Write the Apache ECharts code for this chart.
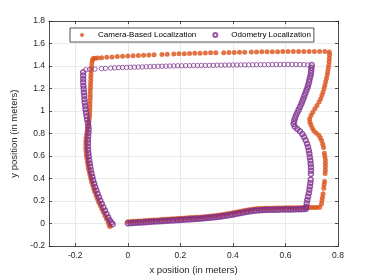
<!DOCTYPE html>
<html><head><meta charset="utf-8">
<script src="https://cdn.jsdelivr.net/npm/echarts@6/dist/echarts.min.js"></script>
<style>html,body{margin:0;padding:0;background:#fff}#c{width:374px;height:280px}</style>
</head><body><div id="c"></div>
<script>
const xTicks = [-0.2, 0, 0.2, 0.4, 0.6, 0.8];
const yTicks = [-0.2, 0, 0.2, 0.4, 0.6, 0.8, 1, 1.2, 1.4, 1.6, 1.8];

// Camera-Based Localization
const camBottomX = [0.00,0.01,0.02,0.03,0.04,0.05,0.06,0.07,0.08,0.09,0.10,0.11,0.12,0.13,0.14,0.15,0.16,0.17,0.18,0.19,0.20,0.21,0.22,0.23,0.24,0.25,0.26,0.27,0.28,0.29,0.30,0.31,0.32,0.33,0.34,0.35,0.36,0.37,0.38,0.39,0.40,0.41,0.42,0.43,0.44,0.45,0.46,0.47,0.48,0.49,0.50,0.51,0.52,0.53,0.54,0.55,0.56,0.57,0.58,0.59,0.60,0.61,0.62,0.63,0.64,0.65,0.66,0.67,0.68,0.69,0.70,0.71,0.72,0.73];
const camBottomY = [0.017,0.018,0.020,0.021,0.023,0.024,0.026,0.027,0.029,0.030,0.032,0.033,0.035,0.036,0.038,0.039,0.041,0.042,0.044,0.045,0.047,0.048,0.050,0.051,0.053,0.054,0.056,0.057,0.059,0.061,0.063,0.065,0.067,0.070,0.073,0.076,0.080,0.084,0.088,0.092,0.096,0.100,0.105,0.109,0.114,0.118,0.122,0.126,0.130,0.132,0.134,0.135,0.136,0.136,0.137,0.137,0.138,0.138,0.139,0.139,0.140,0.140,0.140,0.141,0.141,0.141,0.142,0.142,0.142,0.143,0.143,0.144,0.144,0.145];
const camRight = [[0.737,0.175],[0.739,0.205],[0.741,0.235],[0.743,0.265],[0.746,0.315],[0.747,0.345],[0.749,0.375],[0.751,0.445],[0.752,0.475],[0.752,0.505],[0.752,0.535],[0.752,0.565],[0.750,0.595],[0.748,0.625],[0.745,0.675],[0.742,0.705],[0.738,0.735],[0.733,0.760],[0.727,0.785],[0.717,0.805],[0.708,0.825],[0.702,0.850],[0.697,0.875],[0.693,0.900],[0.692,0.930],[0.697,0.960],[0.704,0.990],[0.712,1.020],[0.720,1.050],[0.728,1.080],[0.734,1.110],[0.739,1.140],[0.743,1.170],[0.747,1.200],[0.750,1.230],[0.753,1.260],[0.756,1.290],[0.759,1.320],[0.761,1.350],[0.763,1.380],[0.765,1.410],[0.766,1.440],[0.767,1.470],[0.768,1.500],[0.767,1.525]];
const camTopX = [0.750,0.730,0.710,0.690,0.670,0.650,0.630,0.610,0.590,0.570,0.550,0.530,0.510,0.490,0.470,0.445,0.425,0.405,0.385,0.365,0.335,0.315,0.295,0.275,0.255,0.235,0.215,0.195,0.175,0.150,0.130,0.100,0.080,0.060,0.040,0.020,0.000,-0.020,-0.040,-0.060,-0.080,-0.100,-0.115,-0.125,-0.132];
const camTopY = [1.528,1.529,1.530,1.530,1.530,1.529,1.529,1.528,1.528,1.527,1.527,1.526,1.526,1.525,1.524,1.523,1.522,1.521,1.520,1.519,1.518,1.517,1.516,1.514,1.513,1.512,1.510,1.509,1.507,1.505,1.503,1.500,1.498,1.496,1.494,1.492,1.490,1.487,1.484,1.481,1.478,1.474,1.471,1.469,1.467];
const camLeft = [[-0.135,1.450],[-0.137,1.420],[-0.138,1.390],[-0.139,1.360],[-0.140,1.330],[-0.141,1.300],[-0.141,1.270],[-0.142,1.240],[-0.142,1.210],[-0.143,1.180],[-0.143,1.150],[-0.143,1.120],[-0.144,1.090],[-0.144,1.060],[-0.144,1.030],[-0.145,1.000],[-0.145,0.970],[-0.146,0.940],[-0.148,0.910],[-0.150,0.880],[-0.153,0.850],[-0.155,0.820],[-0.157,0.790],[-0.159,0.760],[-0.160,0.730],[-0.160,0.700],[-0.160,0.670],[-0.159,0.640],[-0.158,0.610],[-0.156,0.580],[-0.154,0.550],[-0.152,0.520],[-0.150,0.490],[-0.147,0.460],[-0.144,0.430],[-0.141,0.400],[-0.138,0.370],[-0.134,0.340],[-0.130,0.310],[-0.126,0.280],[-0.121,0.250],[-0.116,0.220],[-0.111,0.190],[-0.105,0.160],[-0.099,0.130],[-0.093,0.100],[-0.087,0.070],[-0.081,0.040],[-0.075,0.010],[-0.070,-0.015],[-0.068,-0.025]];

// Odometry Localization
const odoBottomX = [0.00,0.01,0.02,0.03,0.04,0.05,0.06,0.07,0.08,0.09,0.10,0.11,0.12,0.13,0.14,0.15,0.16,0.17,0.18,0.19,0.20,0.21,0.22,0.23,0.24,0.25,0.26,0.27,0.28,0.29,0.30,0.31,0.32,0.33,0.34,0.35,0.36,0.37,0.38,0.39,0.40,0.41,0.42,0.43,0.44,0.45,0.46,0.47,0.48,0.49,0.50,0.51,0.52,0.53,0.54,0.55,0.56,0.57,0.58,0.59,0.60,0.61,0.62,0.63,0.64,0.65,0.66,0.67,0.678];
const odoBottomY = [0.003,0.004,0.006,0.007,0.009,0.010,0.012,0.013,0.015,0.016,0.018,0.019,0.021,0.022,0.024,0.025,0.027,0.028,0.030,0.031,0.033,0.034,0.036,0.037,0.039,0.040,0.042,0.044,0.046,0.048,0.050,0.052,0.054,0.056,0.059,0.062,0.065,0.069,0.072,0.076,0.080,0.085,0.089,0.094,0.098,0.103,0.107,0.111,0.114,0.117,0.119,0.120,0.121,0.122,0.123,0.123,0.124,0.124,0.125,0.125,0.125,0.126,0.126,0.126,0.127,0.127,0.128,0.129,0.131];
const odoRight = [[0.679,0.150],[0.681,0.180],[0.683,0.210],[0.686,0.240],[0.689,0.270],[0.691,0.300],[0.693,0.330],[0.695,0.360],[0.696,0.390],[0.697,0.440],[0.697,0.470],[0.697,0.500],[0.696,0.530],[0.695,0.560],[0.693,0.590],[0.691,0.620],[0.689,0.650],[0.686,0.680],[0.682,0.710],[0.677,0.740],[0.671,0.770],[0.664,0.795],[0.655,0.820],[0.645,0.840],[0.636,0.860],[0.631,0.885],[0.633,0.910],[0.636,0.935],[0.640,0.960],[0.645,0.985],[0.650,1.010],[0.655,1.035],[0.660,1.060],[0.664,1.085],[0.668,1.110],[0.672,1.135],[0.676,1.160],[0.680,1.185],[0.684,1.210],[0.687,1.235],[0.690,1.260],[0.692,1.285],[0.695,1.310],[0.697,1.335],[0.698,1.360],[0.699,1.385],[0.700,1.408]];
const odoTopX = [0.685,0.670,0.655,0.640,0.625,0.610,0.595,0.580,0.565,0.550,0.535,0.520,0.505,0.490,0.475,0.460,0.445,0.430,0.415,0.400,0.385,0.370,0.355,0.340,0.325,0.310,0.295,0.280,0.265,0.250,0.235,0.220,0.205,0.190,0.175,0.160,0.145,0.130,0.115,0.100,0.085,0.070,0.055,0.040,0.025,0.010,-0.005,-0.020,-0.035,-0.050,-0.065,-0.085,-0.100,-0.125,-0.145,-0.160];
const odoTopY = [1.410,1.412,1.413,1.414,1.414,1.414,1.414,1.413,1.413,1.413,1.412,1.412,1.412,1.411,1.411,1.410,1.410,1.410,1.409,1.409,1.408,1.408,1.407,1.407,1.406,1.406,1.405,1.405,1.404,1.404,1.403,1.403,1.402,1.402,1.401,1.400,1.399,1.398,1.397,1.396,1.395,1.394,1.392,1.391,1.390,1.389,1.388,1.387,1.386,1.384,1.382,1.379,1.377,1.373,1.370,1.367];
const odoLeft = [[-0.170,1.345],[-0.170,1.315],[-0.170,1.285],[-0.170,1.255],[-0.169,1.225],[-0.168,1.195],[-0.167,1.165],[-0.166,1.135],[-0.165,1.105],[-0.164,1.075],[-0.162,1.045],[-0.161,1.015],[-0.159,0.985],[-0.157,0.955],[-0.155,0.925],[-0.152,0.895],[-0.150,0.865],[-0.149,0.835],[-0.150,0.805],[-0.151,0.775],[-0.152,0.745],[-0.152,0.715],[-0.152,0.685],[-0.151,0.655],[-0.150,0.625],[-0.149,0.595],[-0.147,0.565],[-0.145,0.535],[-0.143,0.505],[-0.141,0.475],[-0.138,0.445],[-0.135,0.415],[-0.132,0.385],[-0.128,0.355],[-0.124,0.325],[-0.120,0.295],[-0.115,0.265],[-0.110,0.235],[-0.105,0.205],[-0.099,0.175],[-0.093,0.145],[-0.087,0.115],[-0.081,0.085],[-0.075,0.055],[-0.069,0.030],[-0.063,0.010],[-0.058,-0.005]];

const zip = (xs, ys) => xs.map((x, i) => [x, ys[i]]);
const camData = [].concat(zip(camBottomX, camBottomY), camRight, zip(camTopX, camTopY), camLeft);
const thick = p => ({value: p, symbolSize: 5, itemStyle: {borderWidth: 1.5}});
const thin = p => ({value: p, symbolSize: 4.5, itemStyle: {borderWidth: 0.9}});
const odoData = [].concat(
  zip(odoBottomX, odoBottomY).map(thick),
  odoRight.map(thick),
  zip(odoTopX, odoTopY).map(thin),
  odoLeft.map(thick)
);

const FONT = 'Liberation Sans';
const AX = '#262626';
const fmt = v => String(Math.round(v * 10) / 10);

const chart = echarts.init(document.getElementById('c'), null, {renderer: 'canvas'});
chart.setOption({
  animation: false,
  backgroundColor: '#fff',
  grid: {left: 49, right: 36, top: 21, bottom: 31, show: false},
  legend: {
    left: 70, top: 28, itemWidth: 22, itemHeight: 4, itemGap: 16,
    padding: [3, 3, 3, 10], borderColor: AX, borderWidth: 0.8, backgroundColor: '#fff',
    selectedMode: false,
    textStyle: {fontSize: 8, color: '#000', fontFamily: FONT},
    data: ['Camera-Based Localization', 'Odometry Localization']
  },
  xAxis: [{
    type: 'value', min: -0.3, max: 0.8, position: 'bottom',
    axisLine: {show: true, onZero: false, lineStyle: {color: AX, width: 0.8}},
    axisTick: {show: true, inside: true, length: 3, customValues: xTicks, lineStyle: {color: AX, width: 0.8}},
    axisLabel: {customValues: xTicks, color: AX, fontSize: 8.5, fontFamily: FONT, margin: 5, formatter: fmt},
    splitLine: {show: true, lineStyle: {color: '#e4e4e4', width: 0.8}},
    name: 'x position (in meters)', nameLocation: 'middle', nameGap: 17,
    nameTextStyle: {fontSize: 9.5, color: AX, fontFamily: FONT}
  }, {
    type: 'value', min: -0.3, max: 0.8, position: 'top',
    axisLine: {show: true, onZero: false, lineStyle: {color: AX, width: 0.8}},
    axisTick: {show: true, inside: true, length: 3, customValues: xTicks, lineStyle: {color: AX, width: 0.8}},
    axisLabel: {show: false}, splitLine: {show: false}
  }],
  yAxis: [{
    type: 'value', min: -0.2, max: 1.8, interval: 0.2, position: 'left',
    axisLine: {show: true, onZero: false, lineStyle: {color: AX, width: 0.8}},
    axisTick: {show: true, inside: true, length: 3, lineStyle: {color: AX, width: 0.8}},
    axisLabel: {color: AX, fontSize: 8.5, fontFamily: FONT, margin: 4, formatter: fmt},
    splitLine: {show: true, lineStyle: {color: '#e4e4e4', width: 0.8}},
    name: 'y position (in meters)', nameLocation: 'middle', nameGap: 19,
    nameTextStyle: {fontSize: 9.5, color: AX, fontFamily: FONT}
  }, {
    type: 'value', min: -0.2, max: 1.8, interval: 0.2, position: 'right',
    axisLine: {show: true, onZero: false, lineStyle: {color: AX, width: 0.8}},
    axisTick: {show: true, inside: true, length: 3, lineStyle: {color: AX, width: 0.8}},
    axisLabel: {show: false}, splitLine: {show: false}
  }],
  series: [{
    name: 'Camera-Based Localization', type: 'scatter', data: camData,
    symbol: 'circle', symbolSize: 5,
    itemStyle: {color: '#D95319'}, emphasis: {disabled: true}, z: 2
  }, {
    name: 'Odometry Localization', type: 'scatter', data: odoData,
    symbol: 'circle', symbolSize: 5,
    itemStyle: {color: 'rgba(255,255,255,0)', borderColor: '#7E2F8E', borderWidth: 1},
    emphasis: {disabled: true}, z: 3
  }]
});
</script>
</body></html>
